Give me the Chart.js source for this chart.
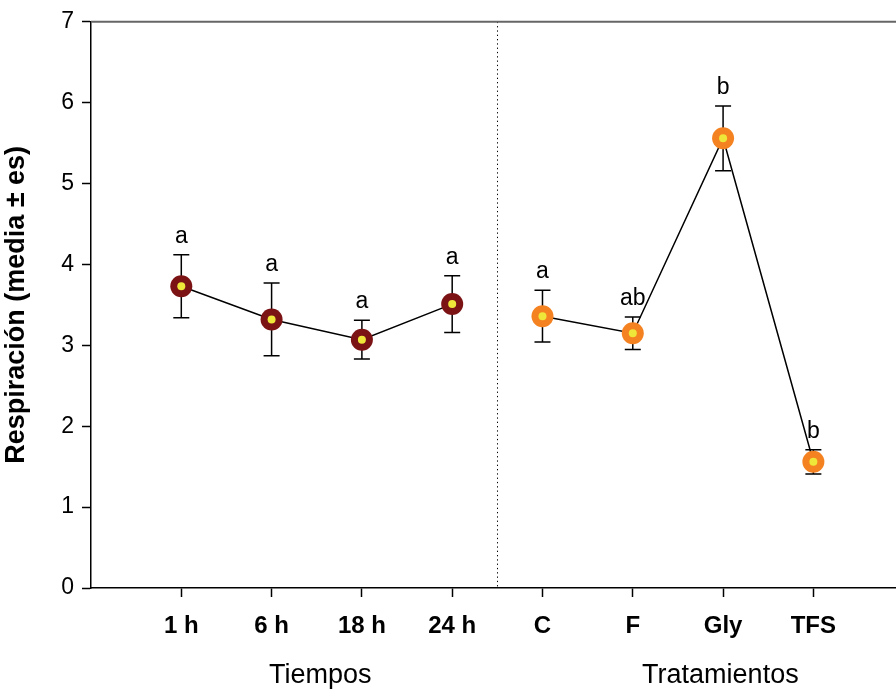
<!DOCTYPE html>
<html>
<head>
<meta charset="utf-8">
<script src="https://cdn.jsdelivr.net/npm/chart.js@4.4.1/dist/chart.umd.min.js"></script>
<style>
  html, body { margin: 0; padding: 0; background: #fff; }
  #wrap { width: 896px; height: 691px; position: relative; }
</style>
</head>
<body>
<div id="wrap"><canvas id="chart"></canvas></div>
<script>
// categories on the x axis (positions 1..8)
const categories = ["1 h", "6 h", "18 h", "24 h", "C", "F", "Gly", "TFS"];
const groupTitles = ["Tiempos", "Tratamientos"];
const yTicks = [0, 1, 2, 3, 4, 5, 6, 7];

// Tiempos
const tiemposMean = [3.73, 3.32, 3.07, 3.51];
const tiemposSE = [0.39, 0.45, 0.24, 0.35];
const tiemposLetters = ["a", "a", "a", "a"];

// Tratamientos
const tratMean = [3.36, 3.15, 5.56, 1.56];
const tratSE = [0.32, 0.20, 0.40, 0.15];
const tratLetters = ["a", "ab", "b", "b"];

const DARK_RED = "#7b1214";
const ORANGE = "#f58220";
const YELLOW = "#efe63a";
const FONT = "'Liberation Sans', Arial, sans-serif";

const tiemposPts = tiemposMean.map((v, i) => ({ x: i + 1, y: v }));
const tratPts = tratMean.map((v, i) => ({ x: i + 5, y: v }));

const allMean = tiemposMean.concat(tratMean);
const allSE = tiemposSE.concat(tratSE);
const allLetters = tiemposLetters.concat(tratLetters);

// error bars, separator and frame line
const extras = {
    id: "extras",
    beforeDatasetsDraw(chart) {
        const { ctx, chartArea, scales: { x, y } } = chart;
        ctx.save();
        // dotted separator
        ctx.strokeStyle = "#000";
        ctx.lineWidth = 1;
        ctx.setLineDash([1.3, 3]);
        const sx = Math.round(x.getPixelForValue(4.5)) + 0.5;
        ctx.beginPath();
        ctx.moveTo(sx, chartArea.top);
        ctx.lineTo(sx, chartArea.bottom);
        ctx.stroke();
        ctx.setLineDash([]);

        // error bars
        ctx.lineWidth = 1.5;
        allMean.forEach((m, i) => {
            const px = x.getPixelForValue(i + 1);
            const top = y.getPixelForValue(m + allSE[i]);
            const bot = y.getPixelForValue(m - allSE[i]);
            ctx.beginPath();
            ctx.moveTo(px, top); ctx.lineTo(px, bot);
            ctx.moveTo(px - 8, top); ctx.lineTo(px + 8, top);
            ctx.moveTo(px - 8, bot); ctx.lineTo(px + 8, bot);
            ctx.stroke();
        });
        ctx.restore();
    },
    afterDatasetsDraw(chart) {
        const { ctx, chartArea, scales: { x, y } } = chart;
        ctx.save();
        // letters above the error bars
        ctx.fillStyle = "#000";
        ctx.font = "23px " + FONT;
        ctx.textAlign = "center";
        ctx.textBaseline = "alphabetic";
        allMean.forEach((m, i) => {
            const px = x.getPixelForValue(i + 1);
            const top = y.getPixelForValue(m + allSE[i]);
            ctx.fillText(allLetters[i], px, top - 12);
        });

        // top frame line
        ctx.strokeStyle = "#666";
        ctx.lineWidth = 2;
        ctx.beginPath();
        ctx.moveTo(chartArea.left, chartArea.top);
        ctx.lineTo(chart.width, chartArea.top);
        ctx.stroke();

        // group titles
        ctx.font = "27px " + FONT;
        ctx.fillText(groupTitles[0], x.getPixelForValue(2.54), 683);
        ctx.fillText(groupTitles[1], x.getPixelForValue(6.97), 683);
        ctx.restore();
    }
};

new Chart(document.getElementById("chart"), {
    type: "line",
    data: {
        datasets: [
            {
                data: tiemposPts, showLine: false, pointRadius: 4, pointHoverRadius: 4,
                pointBackgroundColor: YELLOW, pointBorderWidth: 0, order: 0
            },
            {
                data: tratPts, showLine: false, pointRadius: 4, pointHoverRadius: 4,
                pointBackgroundColor: YELLOW, pointBorderWidth: 0, order: 0
            },
            {
                data: tiemposPts, borderColor: "#000", borderWidth: 1.5, tension: 0,
                pointRadius: 11, pointHoverRadius: 11,
                pointBackgroundColor: DARK_RED, pointBorderWidth: 0, order: 1
            },
            {
                data: tratPts, borderColor: "#000", borderWidth: 1.5, tension: 0,
                pointRadius: 11, pointHoverRadius: 11,
                pointBackgroundColor: ORANGE, pointBorderWidth: 0, order: 1
            }
        ]
    },
    options: {
        responsive: true,
        maintainAspectRatio: false,
        animation: false,
        events: [],
        layout: { padding: { top: 20, right: 0, left: 0, bottom: 0 }, autoPadding: false },
        plugins: { legend: { display: false }, tooltip: { enabled: false } },
        scales: {
            x: {
                type: "linear",
                min: 0,
                max: 8.915,
                afterFit: (s) => { s.height = 103; },
                afterBuildTicks: (s) => { s.ticks = categories.map((c, i) => ({ value: i + 1 })); },
                border: { color: "#000", width: 1.5 },
                grid: { drawOnChartArea: false, drawTicks: true, tickLength: 9, tickColor: "#000", tickWidth: 1.5 },
                ticks: {
                    color: "#000",
                    padding: 15,
                    maxRotation: 0,
                    autoSkip: false,
                    font: { family: FONT, size: 24, weight: "bold" },
                    callback: (v) => categories[v - 1]
                }
            },
            y: {
                min: 0,
                max: 7,
                afterFit: (s) => { s.width = 91; },
                afterBuildTicks: (s) => { s.ticks = yTicks.map(v => ({ value: v })); },
                border: { color: "#000", width: 1.5 },
                grid: { drawOnChartArea: false, drawTicks: true, tickLength: 9, tickColor: "#000", tickWidth: 1.5 },
                ticks: {
                    color: "#000",
                    padding: 8,
                    font: { family: FONT, size: 23 }
                },
                title: {
                    display: true,
                    text: "Respiración (media ± es)",
                    color: "#000",
                    padding: { top: 0, bottom: 4 },
                    font: { family: FONT, size: 27, weight: "bold" }
                }
            }
        }
    },
    plugins: [extras]
});
</script>
</body>
</html>
